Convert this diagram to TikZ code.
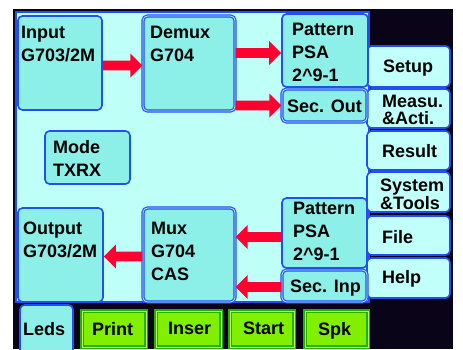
\documentclass[tikz,border=0pt]{standalone}
\usepackage{fontspec}
\setmainfont{Liberation Sans}
\usetikzlibrary{calc}
\definecolor{frameblack}{HTML}{0A0418}
\definecolor{panelbg}{HTML}{BEFFF8}
\definecolor{boxfill}{HTML}{8CF0E8}
\definecolor{menufill}{HTML}{C0FFFA}
\definecolor{edgeblue}{HTML}{2050F0}
\definecolor{arrowred}{HTML}{FF0030}
\definecolor{btngreen}{HTML}{80F000}
\definecolor{btnedge}{HTML}{28B000}
\newcommand\blockarrow[3]{%
  \fill[arrowred] ($(#1)+(0,-4.8)$) -- ($(#2)+(-12*#3,-4.8)$) -- ($(#2)+(-12*#3,-12)$)
    -- (#2) -- ($(#2)+(-12*#3,12)$) -- ($(#2)+(-12*#3,4.8)$) -- ($(#1)+(0,4.8)$) -- cycle;}
\begin{document}
\begin{tikzpicture}[x=1pt,y=-1pt,
  blk/.style={rectangle, rounded corners=4.5pt,
    inner sep=0pt, draw=edgeblue, line width=1.6pt, fill=boxfill},
  dblk/.style={blk, double=boxfill!60!white, double distance=0.8pt, line width=1.2pt},
  menu/.style={blk, fill=menufill, minimum width=83pt},
  gbtn/.style={rectangle, inner sep=0pt, draw=btnedge, line width=1.2pt, double=btngreen!60!white,
    double distance=0.8pt, fill=btngreen, minimum height=36pt},
  txt/.style={anchor=north west, inner sep=0pt, align=left,
    font=\fontsize{18}{23}\selectfont\bfseries},
  tight/.style={txt, font=\fontsize{18}{16.5}\selectfont\bfseries}]
\useasboundingbox (0,0) rectangle (463,349);
% frame and panel
\fill[frameblack] (13,9) rectangle (453,349);
\node[rectangle, draw=edgeblue, line width=1.2pt, fill=panelbg, minimum width=353pt,
  minimum height=290pt, inner sep=0pt] (panel) at (192.5,157) {};
% menu buttons
\node[menu, minimum height=41pt] (setup) at (408.5,66.5) {};
\node[menu, minimum height=39pt] (measu) at (408.5,108.5) {};
\node[menu, minimum height=39pt] (result) at (408.5,150.5) {};
\node[menu, minimum height=40pt] (system) at (408.5,192) {};
\node[menu, minimum height=39pt] (file) at (408.5,235.5) {};
\node[menu, minimum height=40pt] (help) at (408.5,278) {};
% blocks
\node[blk, minimum width=84pt, minimum height=94pt] (input) at (60,63) {};
\node[dblk, minimum width=92pt, minimum height=95pt] (demux) at (189,63.5) {};
\node[blk, minimum width=86pt, minimum height=73pt] (pattA) at (325,50.5) {};
\node[dblk, minimum width=85pt, minimum height=33pt] (secout) at (324.5,105.5) {};
\node[blk, minimum width=85pt, minimum height=53pt] (mode) at (87.5,157.5) {};
\node[blk, minimum width=85pt, minimum height=94pt] (output) at (60.5,255) {};
\node[dblk, minimum width=92pt, minimum height=94pt] (mux) at (189,255) {};
\node[blk, minimum width=85pt, minimum height=70pt] (pattB) at (324.5,233) {};
\node[dblk, minimum width=85pt, minimum height=32pt] (secinp) at (324.5,286) {};
% bottom tabs
\node[blk, minimum width=53pt, minimum height=50pt] (leds) at (46.5,330) {};
\node[gbtn, minimum width=64pt] (print) at (114,329) {};
\node[gbtn, minimum width=65pt] (inser) at (188.5,329) {};
\node[gbtn, minimum width=64pt] (start) at (262,329) {};
\node[gbtn, minimum width=63pt] (spk) at (336.5,329) {};
% arrows (block arrows between named anchors)
\coordinate (a1s) at (input.east |- 0,65.5);  \coordinate (a1e) at (demux.west |- 0,65.5);
\coordinate (a2s) at (demux.east |- 0,53);    \coordinate (a2e) at (pattA.west |- 0,53);
\coordinate (a3s) at (demux.east |- secout.west); \coordinate (a3e) at (secout.west);
\coordinate (a4s) at (pattB.west |- 0,237);   \coordinate (a4e) at (mux.east |- 0,237);
\coordinate (a5s) at (secinp.west |- 0,287);  \coordinate (a5e) at (mux.east |- 0,287);
\coordinate (a6s) at (mux.west |- 0,256.5);   \coordinate (a6e) at (output.east |- 0,256.5);
\blockarrow{a1s}{a1e}{1}
\blockarrow{a2s}{a2e}{1}
\blockarrow{a3s}{a3e}{1}
\blockarrow{a4s}{a4e}{-1}
\blockarrow{a5s}{a5e}{-1}
\blockarrow{a6s}{a6e}{-1}
% texts
\node[txt] (inputT) at (21,26) {Input\\G703/2M};
\node[txt] (demuxT) at (150,26) {Demux\\G704};
\node[txt] (pattAT) at (292,23) {Pattern\\PSA\\2\^{}9-1};
\node[txt] (secoutT) at (287,100) {Sec. Out};
\node[txt] (modeT) at (53,140) {Mode\\TXRX};
\node[txt] (outputT) at (23,222) {Output\\G703/2M};
\node[txt] (muxT) at (151,222) {Mux\\G704\\CAS};
\node[txt] (pattBT) at (293,202) {Pattern\\PSA\\2\^{}9-1};
\node[txt] (secinpT) at (290,280) {Sec. Inp};
\node[txt] (setupT) at (383,60) {Setup};
\node[tight] (measuT) at (382,95) {Measu.\\\&Acti.};
\node[txt] (resultT) at (382,144) {Result};
\node[tight] (systemT) at (380,179) {System\\\&Tools};
\node[txt] (fileT) at (382,230) {File};
\node[txt] (helpT) at (382,270) {Help};
\node[txt] (ledsT) at (23,322) {Leds};
\node[txt] (printT) at (92,322) {Print};
\node[txt] (inserT) at (168,322) {Inser};
\node[txt] (startT) at (243,322) {Start};
\node[txt] (spkT) at (318,322) {Spk};
\end{tikzpicture}
\end{document}
